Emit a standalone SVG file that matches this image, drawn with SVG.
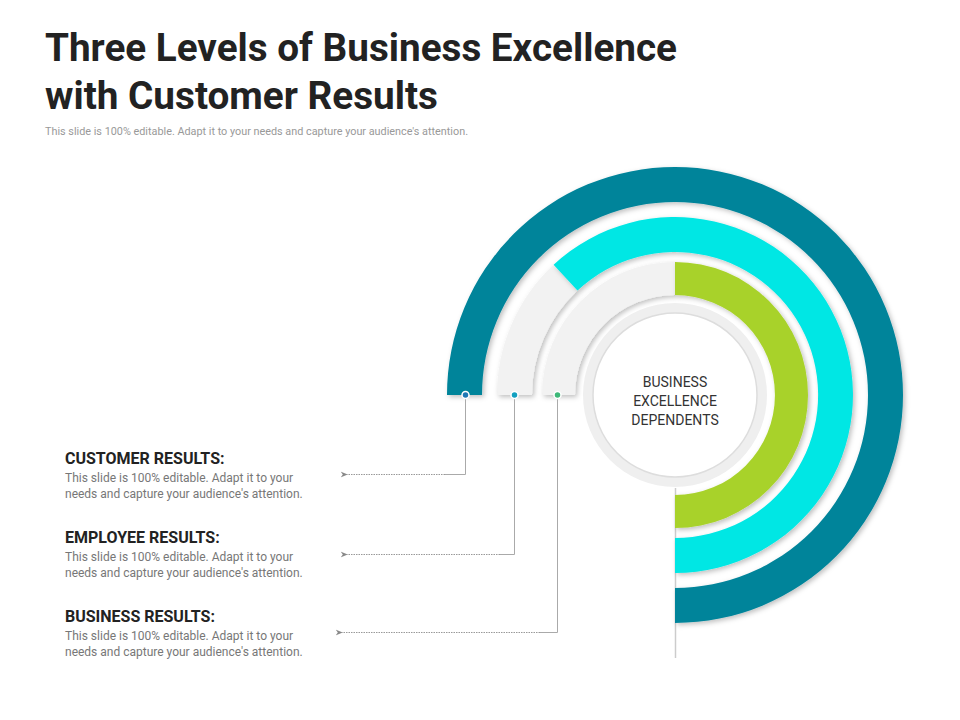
<svg xmlns="http://www.w3.org/2000/svg" width="960" height="720" viewBox="0 0 960 720">
<defs>
<filter id="sh" x="-20%" y="-20%" width="140%" height="140%"><feDropShadow dx="2" dy="2" stdDeviation="2.5" flood-color="#000" flood-opacity="0.25"/></filter>
<marker id="ar" viewBox="0 0 10 10" refX="1" refY="5" markerWidth="7" markerHeight="7" orient="auto"><path d="M10 1 L0 5 L10 9 L7 5 Z" fill="#888"/></marker>
</defs>
<style>
.t{font-family:Roboto,"Liberation Sans",sans-serif;font-weight:bold;font-size:38px;fill:#222}
.s{font-family:Roboto,"Liberation Sans",sans-serif;font-size:11px;fill:#999}
.h{font-family:Roboto,"Liberation Sans",sans-serif;font-weight:bold;font-size:16px;fill:#222}
.b{font-family:Roboto,"Liberation Sans",sans-serif;font-size:12px;fill:#777}
.c{font-family:Roboto,"Liberation Sans",sans-serif;font-size:14px;fill:#333;text-anchor:middle}
.ln{fill:none;stroke:#aaa;stroke-width:1}
.dl{fill:none;stroke:#999;stroke-width:1;stroke-dasharray:1.5 1}
</style>
<rect width="960" height="720" fill="#fff"/>
<text class="t" x="45" y="61" textLength="632" lengthAdjust="spacingAndGlyphs">Three Levels of Business Excellence</text>
<text class="t" x="45" y="109" textLength="393" lengthAdjust="spacingAndGlyphs">with Customer Results</text>
<text class="s" x="45" y="135" textLength="423" lengthAdjust="spacingAndGlyphs">This slide is 100% editable. Adapt it to your needs and capture your audience's attention.</text>
<line x1="675.5" y1="488" x2="675.5" y2="658" stroke="#ccc" stroke-width="1.5"/>
<g id="ring-teal"><path filter="url(#sh)" fill="#06849A" d="M447 395 A228 228 0 1 1 675 623 L675 588 A193 193 0 1 0 482 395 Z"/></g>
<g id="ring-grey1"><path filter="url(#sh)" fill="#F2F2F2" d="M497 395 A178 178 0 0 1 553.6 264.8 L577.5 290.5 A143 143 0 0 0 532 395 Z"/></g>
<g id="ring-cyan"><path filter="url(#sh)" fill="#00E7E4" d="M553.6 264.8 A178 178 0 1 1 675 573 L675 538 A143 143 0 1 0 577.5 290.5 Z"/></g>
<g id="ring-grey2"><path filter="url(#sh)" fill="#F2F2F2" d="M542 395 A133 133 0 0 1 675 262 L675 295 A100 100 0 0 0 575 395 Z"/></g>
<g id="ring-green"><path filter="url(#sh)" fill="#A8D22A" d="M675 262 A133 133 0 0 1 675 528 L675 495 A100 100 0 0 0 675 295 Z"/></g>
<g id="center">
<circle cx="675" cy="395" r="92" fill="#EFEFEF"/>
<circle cx="675" cy="395" r="82" fill="#fff" stroke="#ddd" stroke-width="1.5"/>
<text class="c" x="675" y="387">BUSINESS</text>
<text class="c" x="675" y="406">EXCELLENCE</text>
<text class="c" x="675" y="425">DEPENDENTS</text>
</g>
<g id="connectors">
<polyline class="ln" points="465.5,395 465.5,474.5 445,474.5"/>
<line class="dl" x1="445" y1="474.5" x2="347" y2="474.5" marker-end="url(#ar)"/>
<polyline class="ln" points="514.5,395 514.5,554.5 500,554.5"/>
<line class="dl" x1="500" y1="554.5" x2="347" y2="554.5" marker-end="url(#ar)"/>
<polyline class="ln" points="557.5,395 557.5,632.5 540,632.5"/>
<line class="dl" x1="540" y1="632.5" x2="342" y2="632.5" marker-end="url(#ar)"/>
<circle cx="465.5" cy="395" r="3.5" fill="#1E78B4" stroke="#fff" stroke-width="1.5"/>
<circle cx="514.5" cy="395" r="3.5" fill="#12A0C0" stroke="#fff" stroke-width="1.5"/>
<circle cx="557.5" cy="395" r="3.5" fill="#3DB878" stroke="#fff" stroke-width="1.5"/>
</g>
<g id="customer">
<text class="h" x="65" y="464">CUSTOMER RESULTS:</text>
<text class="b" x="65" y="482">This slide is 100% editable. Adapt it to your</text>
<text class="b" x="65" y="498">needs and capture your audience's attention.</text>
</g>
<g id="employee">
<text class="h" x="65" y="543">EMPLOYEE RESULTS:</text>
<text class="b" x="65" y="561">This slide is 100% editable. Adapt it to your</text>
<text class="b" x="65" y="577">needs and capture your audience's attention.</text>
</g>
<g id="business">
<text class="h" x="65" y="622">BUSINESS RESULTS:</text>
<text class="b" x="65" y="640">This slide is 100% editable. Adapt it to your</text>
<text class="b" x="65" y="656">needs and capture your audience's attention.</text>
</g>
</svg>
